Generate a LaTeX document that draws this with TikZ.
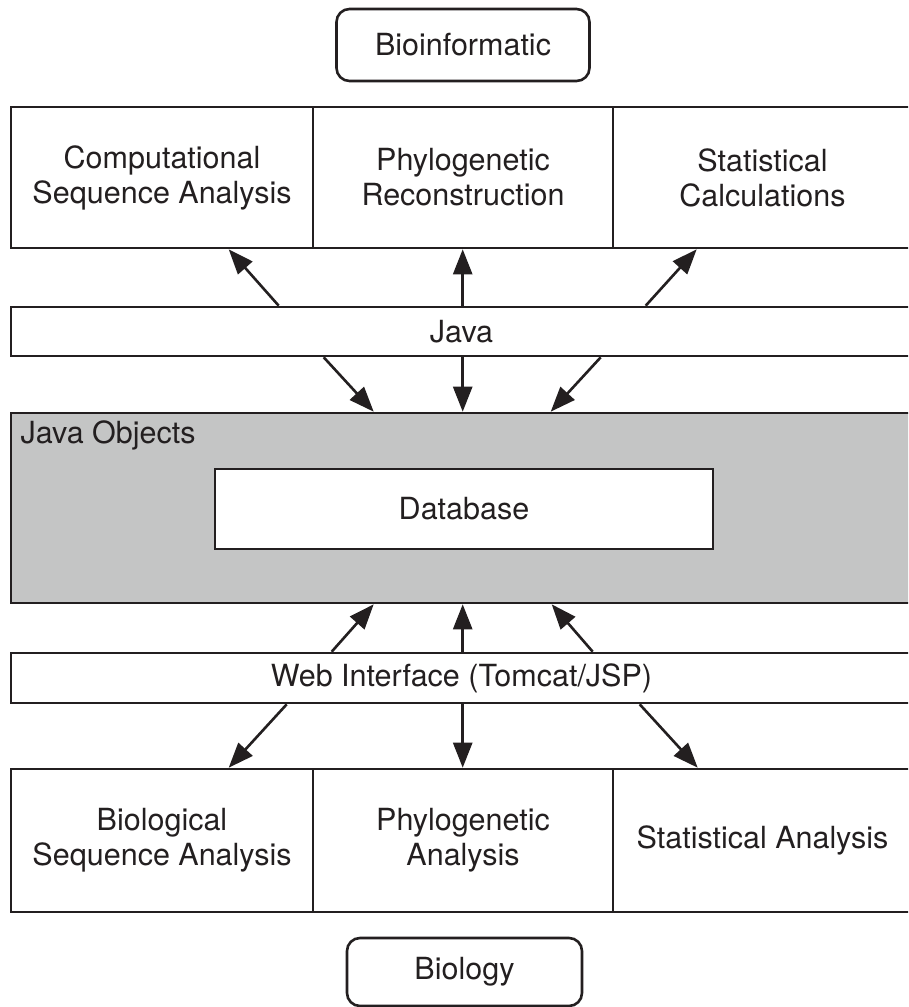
\documentclass[tikz,border=0pt]{standalone}
\usepackage{fontspec}
\setmainfont{TeX Gyre Heros}
\usetikzlibrary{arrows.meta}
\definecolor{ink}{RGB}{35,31,32}
\definecolor{panel}{RGB}{196,197,197}
\begin{document}
\begin{tikzpicture}[x=1pt,y=-1pt,
  every node/.style={font=\fontsize{30.5}{35}\selectfont, text=ink},
  box/.style={draw=ink, line width=2.6pt, fill=white, inner sep=0pt, align=center},
  roundbox/.style={box, rounded corners=13pt},
  arr/.style={draw=ink, line width=2.6pt, -{Triangle[length=25pt,width=19pt]}}]
\clip (0,0) rectangle (908,1007);
\fill[white] (0,0) rectangle (908,1007);

% top label
\node[roundbox, minimum width=253pt, minimum height=72pt] (bioinf) at (463,45) {Bioinformatic};

% bioinformatics tasks
\node[box, minimum width=302pt, minimum height=141pt] (comp) at (162,177.5) {Computational\\Sequence Analysis};
\node[box, minimum width=300pt, minimum height=141pt] (phylo) at (463,177.5) {Phylogenetic\\Reconstruction};
\node[box, minimum width=299pt, minimum height=141pt] (calc) at (762.5,177.5) {Statistical\\Calculations};

% java layer
\node[box, minimum width=901pt, minimum height=49pt] (java) at (461.5,331.5) {Java};

% object store
\node[box, fill=panel, minimum width=901pt, minimum height=190pt] (objs) at (461.5,508) {};
\node[anchor=west] (objlabel) at (17,435) {Java Objects};
\node[box, minimum width=498pt, minimum height=80pt] (db) at (464,509) {Database};

% web layer
\node[box, minimum width=901pt, minimum height=50pt] (web) at (461.5,678) {Web Interface (Tomcat/JSP)};

% biology tasks
\node[box, minimum width=302pt, minimum height=143pt] (bseq) at (162,840.5) {Biological\\Sequence Analysis};
\node[box, minimum width=300pt, minimum height=143pt] (phan) at (463,840.5) {Phylogenetic\\Analysis};
\node[box, minimum width=299pt, minimum height=143pt] (stan) at (762.5,840.5) {Statistical Analysis};

% bottom label
\node[roundbox, minimum width=235pt, minimum height=68pt] (biology) at (464.5,972) {Biology};

% java <-> tasks
\draw[arr] ([xshift=269pt]java.north west) -- ([xshift=219pt]comp.south west);
\draw[arr] ([xshift=453pt]java.north west) -- ([xshift=151pt]phylo.south west);
\draw[arr] ([xshift=636pt]java.north west) -- ([xshift=85pt]calc.south west);

% java -> objects
\draw[arr] ([xshift=314pt]java.south west) -- ([xshift=364pt]objs.north west);
\draw[arr] ([xshift=453pt]java.south west) -- ([xshift=453pt]objs.north west);
\draw[arr] ([xshift=591pt]java.south west) -- ([xshift=541pt]objs.north west);

% web -> objects
\draw[arr] ([xshift=322pt]web.north west) -- ([xshift=364pt]objs.south west);
\draw[arr] ([xshift=453pt]web.north west) -- ([xshift=453pt]objs.south west);
\draw[arr] ([xshift=583pt]web.north west) -- ([xshift=542pt]objs.south west);

% web -> biology tasks
\draw[arr] ([xshift=277pt]web.south west) -- ([xshift=219pt]bseq.north west);
\draw[arr] ([xshift=453pt]web.south west) -- ([xshift=151pt]phan.north west);
\draw[arr] ([xshift=630pt]web.south west) -- ([xshift=86pt]stan.north west);
\end{tikzpicture}
\end{document}
